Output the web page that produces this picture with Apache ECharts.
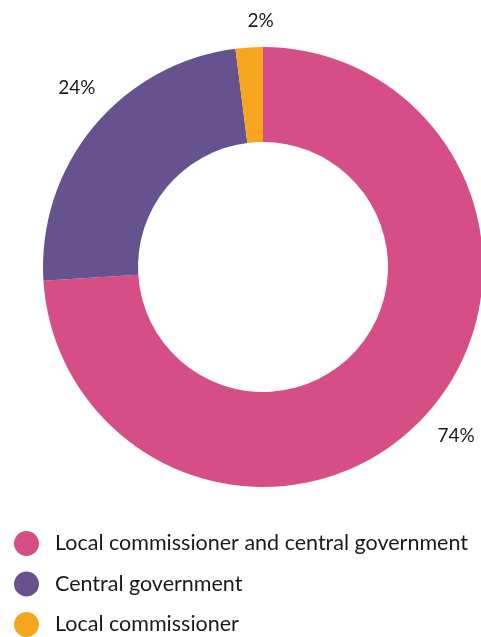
<!DOCTYPE html>
<html>
<head>
<meta charset="utf-8">
<style>
  html, body { margin: 0; padding: 0; background: #ffffff; }
  #chart { width: 481px; height: 637px; }
</style>
<script src="https://cdn.jsdelivr.net/npm/echarts@6/dist/echarts.min.js"></script>
</head>
<body>
<div id="chart"></div>
<script>
// Funding source shares
const categories = [
  'Local commissioner and central government',
  'Central government',
  'Local commissioner'
];
const shares = [74, 24, 2];
const colors = ['#d54f86', '#675290', '#f6a51f'];

const chart = echarts.init(document.getElementById('chart'), null, { renderer: 'canvas' });

const fontFamily = 'Lato, "Noto Sans", sans-serif';

// small nudges so each percentage sits clear of the ring
const labelNudges = [
  { dx: -7, dy: 3 },
  { dx: 24, dy: -25 },
  { dx: 31, dy: -5 }
];

chart.setOption({
  backgroundColor: '#ffffff',
  animation: false,
  color: colors,
  legend: {
    orient: 'vertical',
    left: 14,
    top: 531,
    padding: 0,
    height: 106,
    icon: 'circle',
    itemWidth: 25,
    itemHeight: 25,
    itemGap: 15.5,
    selectedMode: false,
    textStyle: { fontFamily, fontSize: 21.5, color: '#1a1a1a', padding: [0, 0, 0, 11] },
    data: categories
  },
  series: [{
    type: 'pie',
    center: [263, 267],
    radius: [125, 220],
    startAngle: 90,
    clockwise: true,
    silent: true,
    label: {
      show: true,
      position: 'outside',
      formatter: '{d}%',
      fontFamily,
      fontSize: 19,
      color: '#1a1a1a',
      overflow: 'none'
    },
    labelLine: { show: false, length: 22, length2: 0 },
    labelLayout: (params) => labelNudges[params.dataIndex],
    itemStyle: { borderWidth: 0 },
    data: categories.map((name, i) => ({ name, value: shares[i] }))
  }]
});
</script>
</body>
</html>
